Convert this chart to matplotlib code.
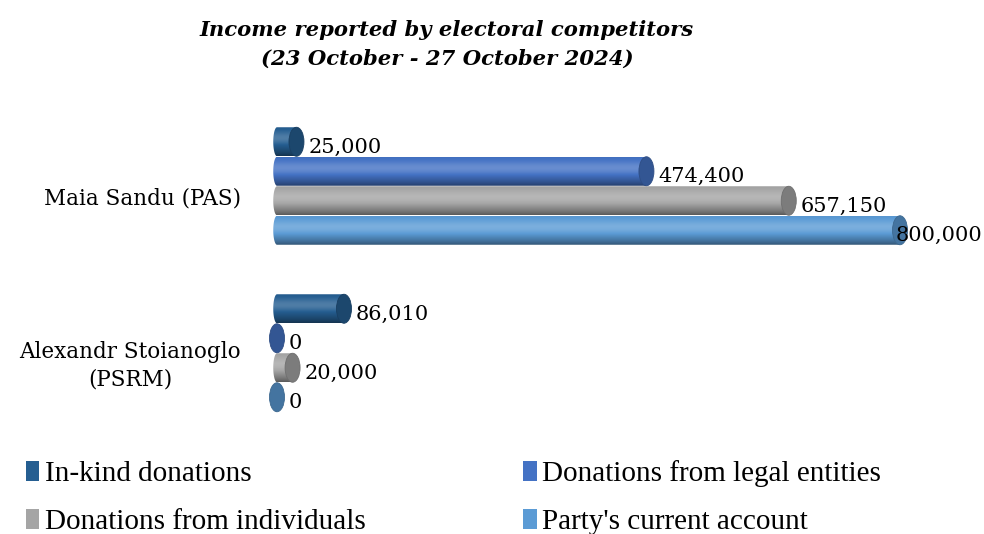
import numpy as np
import matplotlib
matplotlib.use("Agg")
import matplotlib.pyplot as plt
from matplotlib.patches import Ellipse, Polygon, Patch
import matplotlib.colors as mcolors

# данные
candidates = ["Maia Sandu (PAS)", "Alexandr Stoianoglo\n(PSRM)"]
series = ["In-kind donations", "Donations from legal entities",
          "Donations from individuals", "Party's current account"]
in_kind = [25000, 86010]
legal_entities = [474400, 0]
individuals = [657150, 20000]
party_account = [800000, 0]
values = [in_kind, legal_entities, individuals, party_account]
colors = ["#255E91", "#4472C4", "#A5A5A5", "#5B9BD5"]

W, H, DPI = 984, 534, 100
fig = plt.figure(figsize=(W / DPI, H / DPI), dpi=DPI)

# оси в пикселях: 0 -> x=277, 800000 -> x=900
xmin, xmax = -12000, 812000
ppu = 623 / 800000
ax_left = 277 + xmin * ppu
ax_w = (xmax - xmin) * ppu
# группы: центр 0 -> y=186, центр 1 -> y=353
ppg = 167
ax_top_px, ax_bot_px = 100, 430
ytop = -(186 - ax_top_px) / ppg
ybot = 1 + (ax_bot_px - 353) / ppg
ax = fig.add_axes([ax_left / W, 1 - ax_bot_px / H, ax_w / W, (ax_bot_px - ax_top_px) / H])

step = 29.5 / ppg
bar_h = 29 / ppg
cap_a = 7.5 / ppu  # полуширина торца в единицах данных


def shade(base, n=60):
    t = np.linspace(0, 1, n)
    f = 0.95 + 0.25 * np.exp(-((t - 0.38) / 0.25) ** 2) - 0.4 * t ** 4
    rgb = np.array(mcolors.to_rgb(base))
    out = np.zeros((n, 1, 3))
    for i, k in enumerate(f):
        if k > 1:
            out[i, 0] = rgb + (1 - rgb) * (k - 1)
        else:
            out[i, 0] = rgb * k
    return np.clip(out, 0, 1)


labels = []
for g, cand in enumerate(candidates):
    for s in range(len(series)):
        v = values[s][g]
        y0 = g + (s - 1.5) * step
        top, bot = y0 - bar_h / 2, y0 + bar_h / 2
        phi = np.linspace(-np.pi / 2, np.pi / 2, 40)
        left_x = -cap_a * 0.5 * np.cos(phi)
        left_y = y0 + (bar_h / 2) * np.sin(phi)
        verts = np.column_stack([np.r_[left_x, v, v], np.r_[left_y, bot, top]])
        clip = Polygon(verts, closed=True, transform=ax.transData)
        im = ax.imshow(shade(colors[s]), extent=[-cap_a, max(v, 1), bot, top],
                       origin="upper", aspect="auto", interpolation="bilinear", zorder=2)
        im.set_clip_path(clip)
        cap_col = np.array(mcolors.to_rgb(colors[s])) * 0.75
        ax.add_patch(Ellipse((v, y0), 2 * cap_a, bar_h, facecolor=cap_col,
                             edgecolor=np.clip(cap_col * 0.9, 0, 1), lw=0.6, zorder=3))
        t = ax.annotate(f"{v:,}", xy=(v + cap_a, y0), xytext=(3, -4),
                        textcoords="offset points", va="center", ha="left",
                        fontsize=15, family="DejaVu Serif", zorder=4)
        labels.append(t)
    ax.annotate(cand, xy=(0, g), xytext=(-26, -9), textcoords="offset points",
                ha="right", va="center", multialignment="center",
                fontsize=15.5, family="DejaVu Serif", linespacing=1.35)

ax.set_xlim(xmin, xmax)
ax.set_ylim(ybot, ytop)
ax.axis("off")

fig.text(447 / W, 1 - 30 / H, "Income reported by electoral competitors",
         ha="center", va="center", fontsize=15.2, fontweight="bold",
         fontstyle="italic", family="DejaVu Serif")
fig.text(447 / W, 1 - 59 / H, "(23 October - 27 October 2024)",
         ha="center", va="center", fontsize=15.2, fontweight="bold",
         fontstyle="italic", family="DejaVu Serif")

handles = [Patch(facecolor=colors[i], edgecolor="none") for i in [0, 2, 1, 3]]
names = [series[i] for i in [0, 2, 1, 3]]
fig.legend(handles, names, ncol=2, loc="upper left", bbox_to_anchor=(0, 1 - 434 / H),
           frameon=False, prop={"family": "Liberation Serif", "size": 21},
           handlelength=0.45, handleheight=0.65, handletextpad=0.2,
           columnspacing=5.4, labelspacing=0.75)

# не даём подписи вылезти за край рисунка
fig.canvas.draw()
r = fig.canvas.get_renderer()
for t in labels:
    bb = t.get_window_extent(r)
    if bb.x1 > W - 2:
        dx = (bb.x1 - (W - 2)) * 72 / DPI
        x, y = t.xyann
        t.xyann = (x - dx, y)

fig.savefig("out.png", dpi=DPI)
